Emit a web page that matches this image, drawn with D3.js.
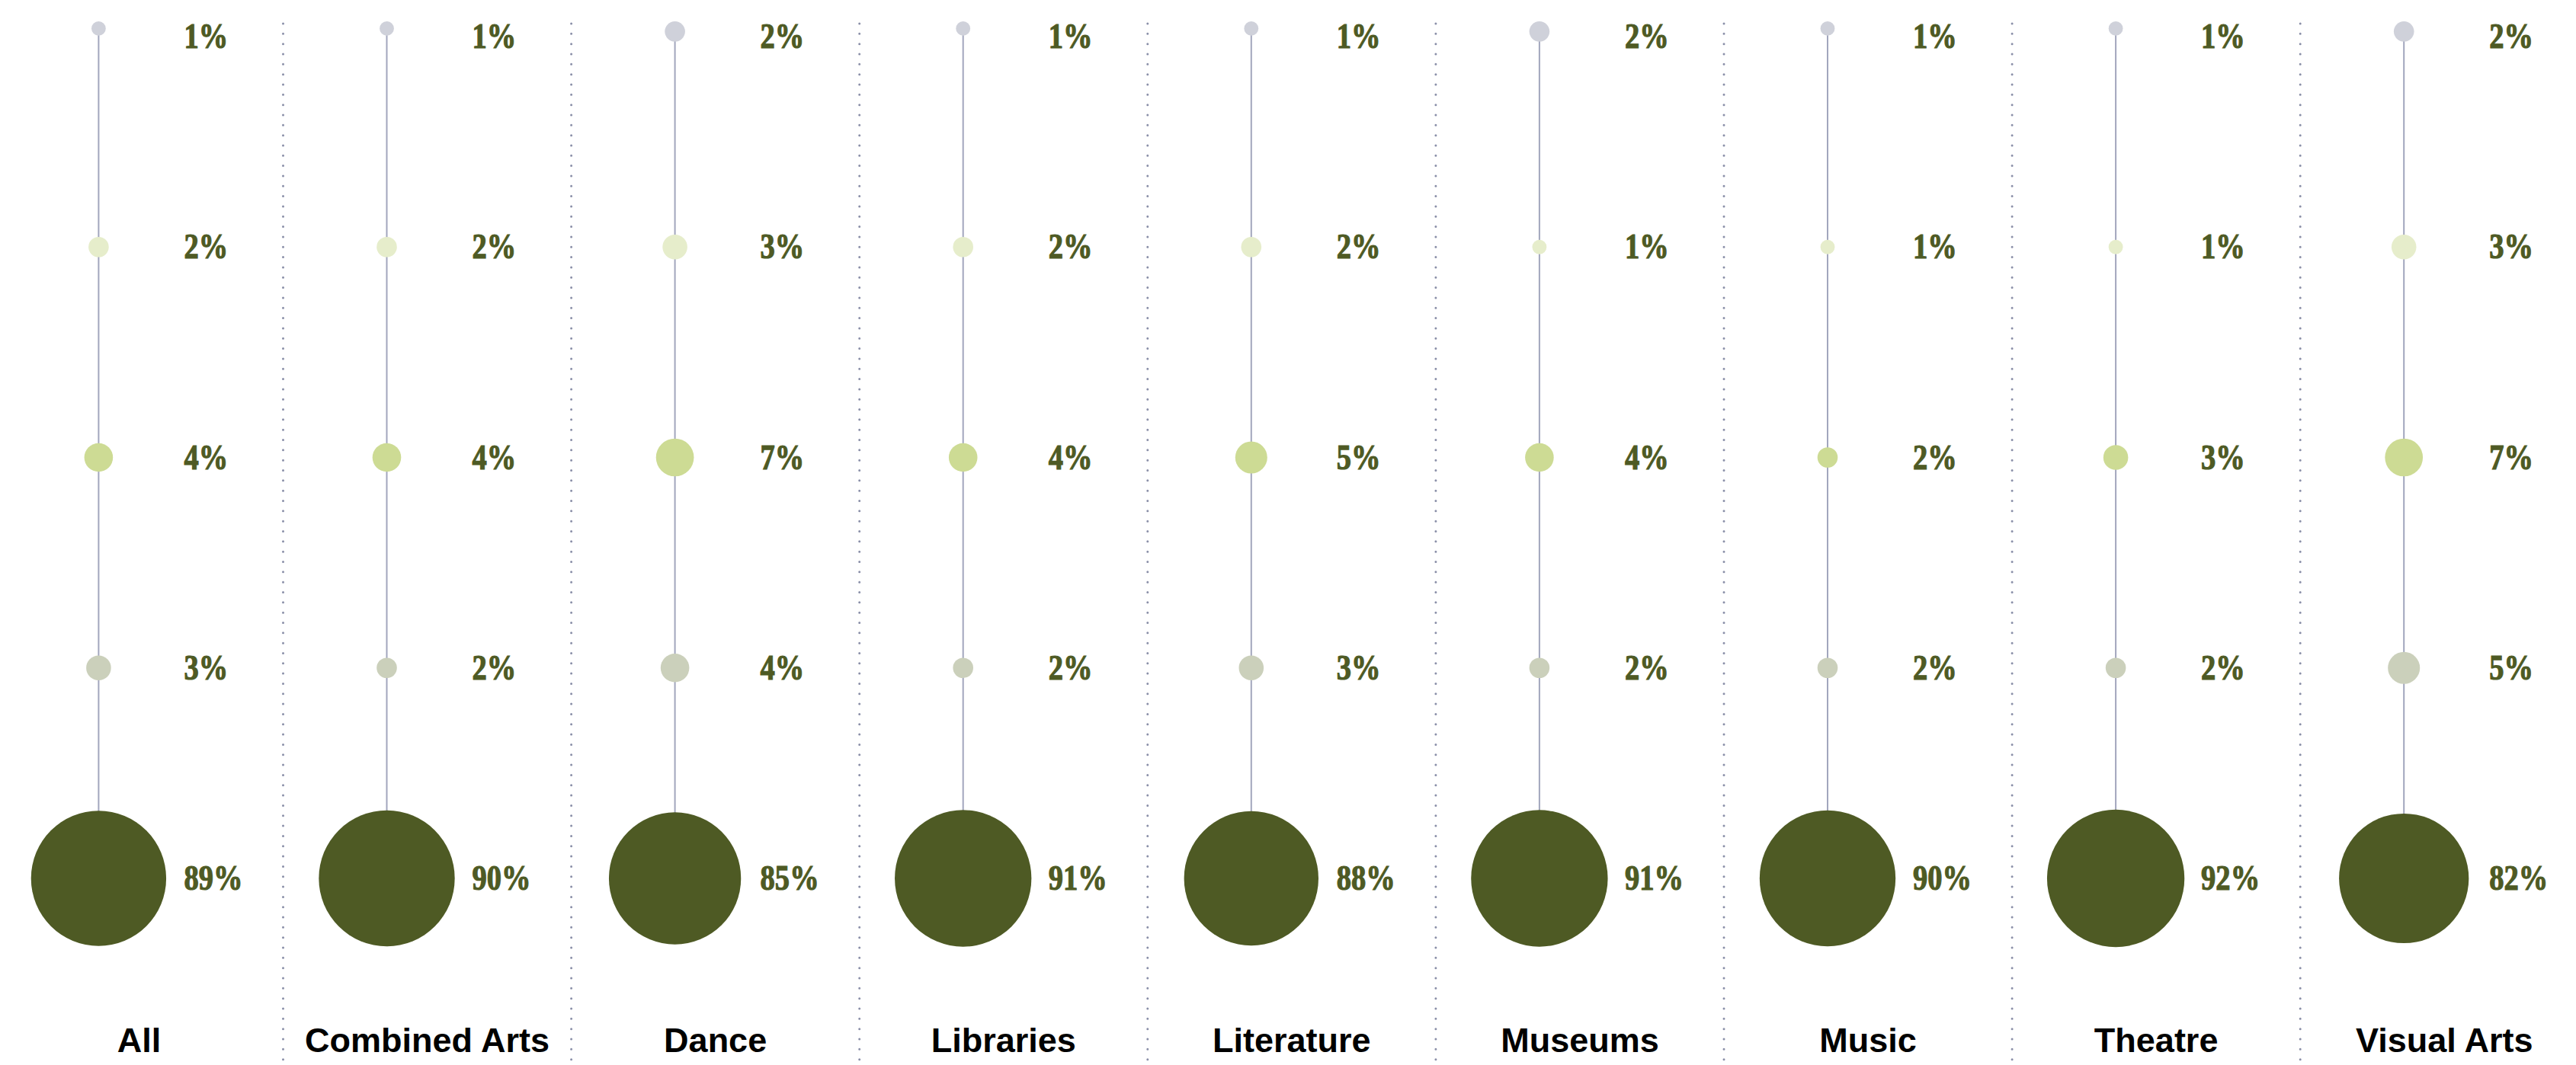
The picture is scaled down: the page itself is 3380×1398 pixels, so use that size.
<!DOCTYPE html>
<html>
<head>
<meta charset="utf-8">
<script src="https://cdn.jsdelivr.net/npm/d3@7"></script>
<style>
  html, body { margin: 0; padding: 0; background: #ffffff; }
  svg { display: block; }
</style>
</head>
<body>
<div id="chart"></div>
<script>
// ---- data ----
const categories = ["All", "Combined Arts", "Dance", "Libraries", "Literature", "Museums", "Music", "Theatre", "Visual Arts"];
const rows = ["r1", "r2", "r3", "r4", "r5"];
const r1Values = [1, 1, 2, 1, 1, 2, 1, 1, 2];
const r2Values = [2, 2, 3, 2, 2, 1, 1, 1, 3];
const r3Values = [4, 4, 7, 4, 5, 4, 2, 3, 7];
const r4Values = [3, 2, 4, 2, 3, 2, 2, 2, 5];
const r5Values = [89, 90, 85, 91, 88, 91, 90, 92, 82];
const seriesValues = [r1Values, r2Values, r3Values, r4Values, r5Values];
const rowColors = ["#cfd1da", "#e6edcb", "#cddb94", "#cbd0bb", "#4e5a24"];

// ---- layout ----
const W = 3380, H = 1398;
const svg = d3.select("#chart").append("svg").attr("width", W).attr("height", H);

const colW = 378.1;
const x = d3.scaleBand().domain(categories).range([-6.6, -6.6 + colW * categories.length]);
const y = d3.scalePoint().domain(rows).range([48, 1153]);
const r = d3.scaleSqrt().domain([0, 100]).range([0, 94]);
const circleOffset = 136, labelGap = 112, topEdge = 28;

// separators
svg.append("g").selectAll("line")
  .data(categories.slice(1))
  .join("line")
  .attr("x1", d => x(d)).attr("x2", d => x(d))
  .attr("y1", 31).attr("y2", H)
  .attr("stroke", "#8a8fa8")
  .attr("stroke-width", 3)
  .attr("stroke-linecap", "round")
  .attr("stroke-dasharray", "0 13.33");

const cols = svg.append("g").selectAll("g")
  .data(categories.map((c, i) => ({
    cat: c,
    cells: rows.map((row, j) => ({ row, j, v: seriesValues[j][i] }))
  })))
  .join("g")
  .attr("transform", d => `translate(${x(d.cat) + circleOffset},0)`);

const cy = c => c.j === 0 ? Math.min(y(c.row), topEdge + r(c.v)) : y(c.row);

// stems
cols.append("line")
  .attr("x1", 0).attr("x2", 0)
  .attr("y1", d => cy(d.cells[0]))
  .attr("y2", d => cy(d.cells[4]))
  .attr("stroke", "#a2a6bd")
  .attr("stroke-width", 2);

// circles
cols.selectAll("circle")
  .data(d => d.cells)
  .join("circle")
  .attr("cx", 0)
  .attr("cy", d => cy(d))
  .attr("r", d => r(d.v))
  .attr("fill", d => rowColors[d.j]);

// value labels
cols.selectAll("text.val")
  .data(d => d.cells)
  .join("text")
  .attr("class", "val")
  .attr("transform", d => `translate(${labelGap},${y(d.row) + 15}) scale(0.82,1)`)
  .attr("font-family", "'Liberation Serif', 'DejaVu Serif', serif")
  .attr("font-weight", 700)
  .attr("font-size", 47)
  .attr("fill", "#4e5a24")
  .attr("stroke", "#4e5a24")
  .attr("stroke-width", 1.2)
  .text(d => d.v + "%");

// category labels
svg.append("g").selectAll("text")
  .data(categories)
  .join("text")
  .attr("x", d => x(d) + x.bandwidth() / 2)
  .attr("y", 1381)
  .attr("text-anchor", "middle")
  .attr("font-family", "'Liberation Sans', Arial, sans-serif")
  .attr("font-weight", 700)
  .attr("font-size", 45)
  .attr("fill", "#000000")
  .text(d => d);
</script>
</body>
</html>
